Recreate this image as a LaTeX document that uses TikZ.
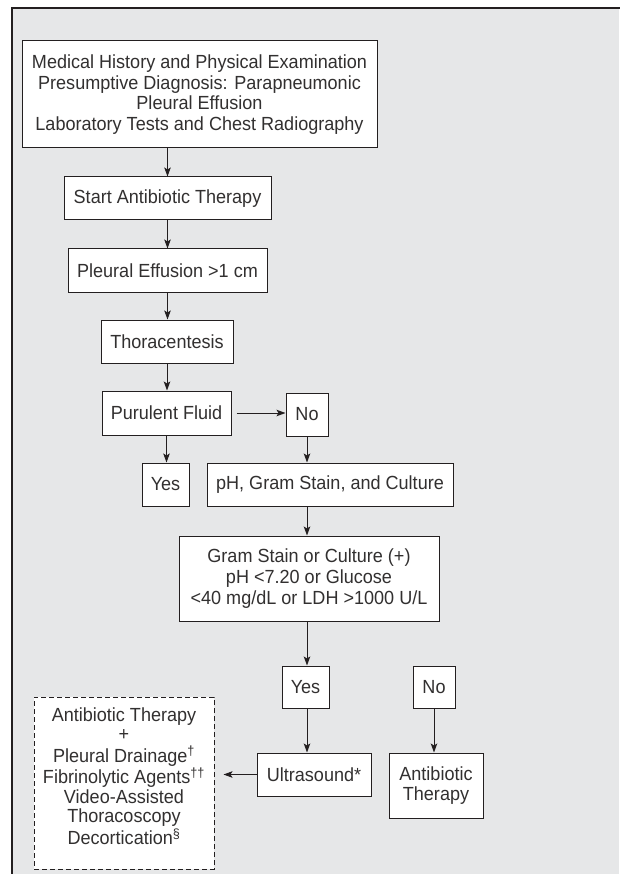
\documentclass[tikz,border=0pt]{standalone}
\usepackage{fontspec}
\setmainfont{Liberation Sans}[FakeStretch=0.95]
\usetikzlibrary{arrows.meta}
\definecolor{bggray}{RGB}{230,231,232}
\definecolor{ink}{RGB}{35,31,32}
\definecolor{txt}{RGB}{50,48,48}
\tikzset{
  box/.style={draw=ink, fill=white, line width=1pt, inner sep=0pt, align=center,
    text=txt, font=\fontsize{19}{20.8}\selectfont},
  dbox/.style={box, dashed, dash pattern=on 5pt off 3pt},
  arr/.style={draw=ink, line width=1pt, -{Stealth[length=9pt,width=6.5pt,inset=2pt]}},
}
\begin{document}
\begin{tikzpicture}[x=1pt,y=-1pt]
\useasboundingbox (0,0) rectangle (622,874);
\fill[bggray] (12,8) rectangle (619,874);
\draw[ink, line width=1.2pt] (12,874) -- (12,8) -- (620,8);

\node[box, minimum width=355pt, minimum height=107pt] (top) at (199.5,94.5)
  {Medical History and Physical Examination\\Presumptive Diagnosis: Parapneumonic\\Pleural Effusion\\Laboratory Tests and Chest Radiography};
\node[box, minimum width=207pt, minimum height=43pt] (start) at (167.5,198.5) {Start Antibiotic Therapy};
\node[box, minimum width=199pt, minimum height=43pt] (eff) at (167.5,270.5) {Pleural Effusion >1 cm};
\node[box, minimum width=132pt, minimum height=43pt] (thor) at (167,341.5) {Thoracentesis};
\node[box, minimum width=129pt, minimum height=44pt] (pur) at (166.5,413) {Purulent Fluid};
\node[box, minimum width=42pt, minimum height=43pt] (noa) at (307,414.5) {No};
\node[box, minimum width=47pt, minimum height=43pt] (yesa) at (165.5,484.5) {Yes};
\node[box, minimum width=246pt, minimum height=43pt] (ph) at (330,484.5) {pH, Gram Stain, and Culture};
\node[box, minimum width=260pt, minimum height=85pt] (gram) at (309,578.5)
  {Gram Stain or Culture (+)\\pH <7.20 or Glucose\\<40 mg/dL or LDH >1000 U/L};
\node[box, minimum width=47pt, minimum height=42pt] (yesb) at (305.5,687) {Yes};
\node[box, minimum width=42pt, minimum height=42pt] (nob) at (434,687) {No};
\node[box, minimum width=114pt, minimum height=43pt] (ultra) at (314,774.5) {Ultrasound*};
\node[box, minimum width=94pt, minimum height=65pt] (anti) at (436,785.5) {Antibiotic\\Therapy};
\node[dbox, minimum width=180pt, minimum height=172pt] (treat) at (124,783)
  {\raisebox{4pt}[\height][\depth]{\fontsize{19}{19.2}\selectfont\begin{tabular}{@{}c@{}}Antibiotic Therapy\\+\\Pleural Drainage\textsuperscript{†}\\Fibrinolytic Agents\textsuperscript{††}\\Video-Assisted\\Thoracoscopy\\Decortication\textsuperscript{§}\end{tabular}}};

\draw[arr] (start.north |- top.south) -- (start.north);
\draw[arr] (start.south) -- (eff.north);
\draw[arr] (eff.south) -- (eff.south |- thor.north);
\draw[arr] (thor.south) -- (thor.south |- pur.north);
\draw[arr] (pur.south) -- (pur.south |- yesa.north);
\draw[arr, shorten <=5pt] (pur.east) -- (noa.west |- pur.east);
\draw[arr] (noa.south) -- (noa.south |- ph.north);
\draw[arr] (ph.south -| noa.south) -- (gram.north -| noa.south);
\draw[arr] (gram.south -| noa.south) -- (yesb.north -| noa.south);
\draw[arr] (yesb.south -| noa.south) -- (ultra.north -| noa.south);
\draw[arr] (nob.south) -- (nob.south |- anti.north);
\draw[arr, shorten >=9pt] (ultra.west) -- (treat.east |- ultra.west);
\end{tikzpicture}
\end{document}
